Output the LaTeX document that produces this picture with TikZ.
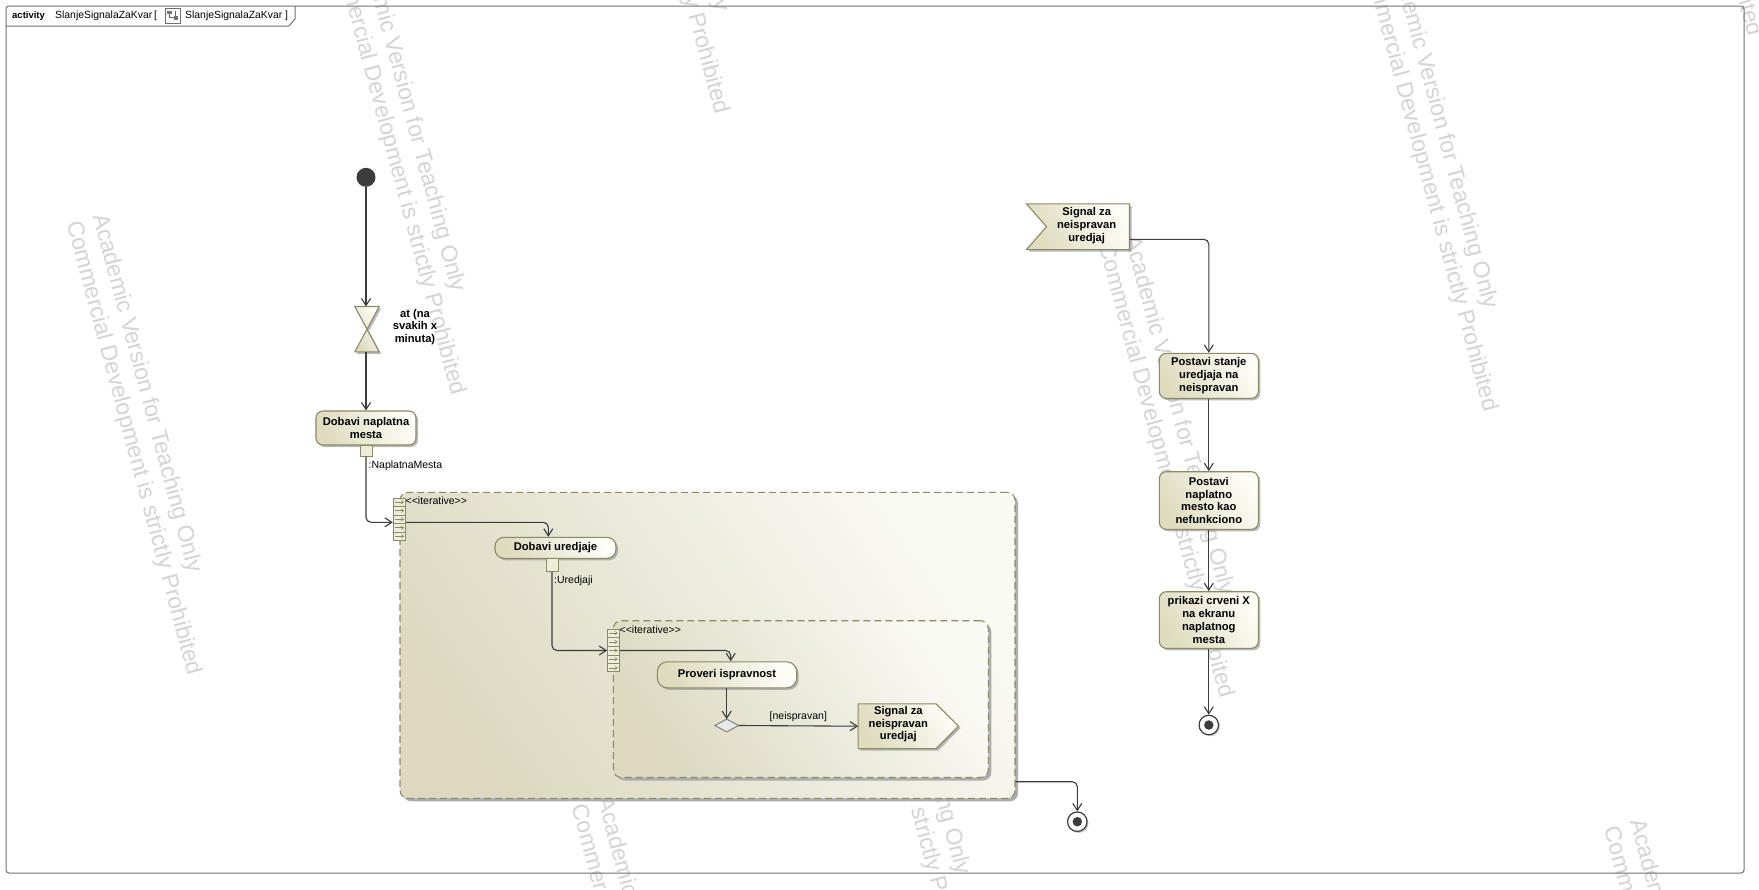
\documentclass[tikz,border=0pt]{standalone}
\usepackage{fontspec}
\setmainfont{Liberation Sans}
\usetikzlibrary{arrows.meta,shadows,calc}
\definecolor{oliveline}{RGB}{140,138,100}
\definecolor{actdark}{RGB}{222,219,190}
\definecolor{actlight}{RGB}{253,253,247}
\definecolor{regdark}{RGB}{220,217,192}
\definecolor{reglight}{RGB}{250,250,245}
\definecolor{flowc}{RGB}{60,60,60}
\definecolor{wmc}{RGB}{212,212,212}
\definecolor{framec}{RGB}{112,112,112}
\definecolor{pinfill}{RGB}{238,237,218}
\definecolor{decfill}{RGB}{232,232,232}
\definecolor{decline}{RGB}{130,130,130}
\tikzset{
  bfnode/.style={font=\fontsize{11.2}{12.8}\selectfont\bfseries, align=center, inner sep=0pt},
  actbox/.style={bfnode, draw=oliveline, line width=1.1pt, rounded corners=7pt,
     top color=actlight, bottom color=actdark, shading angle=-60,
     drop shadow={shadow xshift=2pt, shadow yshift=-2pt, fill=black!45, opacity=0.6}},
  shapebox/.style={draw=none, fill=none, inner sep=0pt},
  evshape/.style={draw=oliveline, line width=1.1pt, top color=actlight, bottom color=actdark, shading angle=-60,
     drop shadow={shadow xshift=2pt, shadow yshift=-2pt, fill=black!45, opacity=0.6}},
  regionbox/.style={draw=oliveline, line width=1.1pt, dash pattern=on 7pt off 4pt, rounded corners=8pt,
     top color=reglight, bottom color=regdark, shading angle=-55, inner sep=0pt,
     drop shadow={shadow xshift=3pt, shadow yshift=-3pt, fill=black!32, opacity=1}},
  flowline/.style={draw=flowc, line width=1.1pt, rounded corners=5pt, -{Straight Barb[length=7pt,width=9pt]}},
  plainlabel/.style={font=\fontsize{10.5}{12}\selectfont, inner sep=0pt},
  pinsq/.style={draw=oliveline, fill=pinfill, line width=1pt, minimum width=12pt, minimum height=11pt, inner sep=0pt},
  expnode/.style={draw=oliveline, fill=pinfill, line width=1pt, inner sep=0pt},
  compline/.style={draw=oliveline, line width=0.6pt},
  comparrow/.style={draw=oliveline, line width=0.6pt, -{Straight Barb[length=2.5pt,width=3.5pt]}},
  wmark/.style={text=wmc, font=\fontsize{23}{27}\selectfont, align=left, rotate=-75, anchor=south west, inner sep=0pt},
  finalnode/.style={circle, draw=flowc, fill=white, line width=1.2pt, minimum size=19.5pt, inner sep=0pt,
     drop shadow={shadow xshift=1.5pt, shadow yshift=-1.5pt, fill=black!40, opacity=0.5}},
  finaldot/.style={circle, fill=flowc, minimum size=9.5pt, inner sep=0pt},
}
\begin{document}
\begin{tikzpicture}[x=1pt,y=-1pt]
\useasboundingbox (0,0) rectangle (1759,889);
\clip (0,0) rectangle (1759,889);
\fill[white] (0,0) rectangle (1759,889);
% watermarks
\foreach \px/\py [count=\i] in {61.7/224.4, 325.4/-56, 1094/247, 1357.6/-39.3, 589/-336.6, 1622/-415, 830/527, 566.6/808, 1599/830} {
  \node[wmark] (wm\i) at (\px,\py) {Academic Version for Teaching Only\\Commercial Development is strictly Prohibited};
}
% frame
\draw[framec, line width=1pt, rounded corners=3pt] (6,6) rectangle (1744,873);
\draw[framec, line width=1pt] (6,26) -- (289,26) -- (295,19) -- (295,6);
\node[anchor=base west, inner sep=0pt, font=\fontsize{9.5}{11}\selectfont\bfseries] (tabkw) at (12,18.5) {activity};
\node[anchor=base west, inner sep=0pt, font=\fontsize{10.4}{12}\selectfont] (tabname) at (55,18.5) {SlanjeSignalaZaKvar\,[};
\draw[framec, line width=0.7pt] (165,8.5) rectangle (180,23);
\fill[black!55] (167,10.5) rectangle (172,14);
\fill[black!55] (173.5,16) rectangle (178,19.5);
\draw[black!60, line width=0.7pt] (169.5,14) -- (169.5,17.8) -- (173.5,17.8);
\draw[black!60, line width=0.7pt] (175.5,10.5) -- (175.5,16);
\node[anchor=base west, inner sep=0pt, font=\fontsize{10.4}{12}\selectfont] (tabname2) at (185,18.5) {SlanjeSignalaZaKvar ]};
% regions
\node[regionbox, minimum width=615pt, minimum height=306pt] (reg1) at (707.5,645.3) {};
\node[regionbox, minimum width=375pt, minimum height=156.8pt] (reg2) at (800.8,699.1) {};
\node[plainlabel, anchor=west] (it1) at (405.5,500.7) {<{}<iterative>{}>};
\node[plainlabel, anchor=west] (it2) at (619.5,629.3) {<{}<iterative>{}>};
% expansion nodes
\node[expnode, minimum width=12.4pt, minimum height=41.7pt] (exp1) at (399.5,519.2) {};
\node[expnode, minimum width=11.6pt, minimum height=42.4pt] (exp2) at (613.5,650.5) {};
\foreach \e in {exp1,exp2} {
  \foreach \k in {1,...,4}
    \draw[compline] ($(\e.north west)!\k/5!(\e.south west)$) -- ($(\e.north east)!\k/5!(\e.south east)$);
  \foreach \k in {1,3,5,7,9}
    \draw[comparrow] ($(\e.north west)!\k/10!(\e.south west)+(2,0)$) -- ($(\e.north east)!\k/10!(\e.south east)+(-2,0)$);
}
% initial and time event
\node[circle, fill=flowc, minimum size=19pt, inner sep=0pt] (init) at (366,177.3) {};
\node[shapebox, minimum width=24pt, minimum height=45pt] (tm) at (367,329.2) {};
\path[evshape] (tm.north west) -- (tm.north east) -- (tm.south west) -- (tm.south east) -- cycle;
\node[bfnode] (tmlabel) at (415,327) {at (na\\svakih x\\minuta)};
% actions
\node[actbox, minimum width=100pt, minimum height=34pt] (dnm) at (366,428) {Dobavi naplatna\\mesta};
\node[pinsq] (p1) at (366,450.5) {};
\node[plainlabel, anchor=west] (p1lab) at (368.5,465.3) {:NaplatnaMesta};
\node[actbox, minimum width=121pt, minimum height=21pt, rounded corners=9pt] (dur) at (555.5,547.8) {Dobavi uredjaje};
\node[pinsq, minimum height=12.5pt] (p2) at (552,565) {};
\node[plainlabel, anchor=west] (p2lab) at (554,580.7) {:Uredjaji};
\node[actbox, minimum width=139.4pt, minimum height=26pt, rounded corners=10pt] (pi) at (727,674.8) {Proveri ispravnost};
% decision
\node[shapebox, minimum width=23.3pt, minimum height=12.4pt] (dec) at (726.7,725.5) {};
\path[draw=decline, line width=1pt, fill=decfill] (dec.north) -- (dec.east) -- (dec.south) -- (dec.west) -- cycle;
% send signal
\node[shapebox, minimum width=100pt, minimum height=44.3pt] (sendbox) at (908.3,726.2) {};
\path[evshape] (sendbox.north west) -- ([xshift=-22.3pt]sendbox.north east) -- (sendbox.east) -- ([xshift=-22.3pt]sendbox.south east) -- (sendbox.south west) -- cycle;
\node[bfnode] (sendtext) at (898.3,724.2) {Signal za\\neispravan\\uredjaj};
% accept event
\node[shapebox, minimum width=102.6pt, minimum height=45.3pt] (accbox) at (1078,226.7) {};
\path[evshape] (accbox.north west) -- (accbox.north east) -- (accbox.south east) -- (accbox.south west) -- ([xshift=20pt]accbox.west) -- cycle;
\node[bfnode] (acctext) at (1086.7,225.5) {Signal za\\neispravan\\uredjaj};
% right column
\node[actbox, minimum width=99pt, minimum height=45pt] (ps) at (1208.8,375.8) {Postavi stanje\\uredjaja na\\neispravan};
\node[actbox, minimum width=99pt, minimum height=57.6pt] (pn) at (1208.8,500.5) {Postavi\\naplatno\\mesto kao\\nefunkciono};
\node[actbox, minimum width=99pt, minimum height=56.6pt] (pr) at (1208.8,620) {prikazi crveni X\\na ekranu\\naplatnog\\mesta};
% finals
\node[finalnode] (fin1) at (1077.3,821.7) {};
\node[finaldot] (fin1dot) at (fin1) {};
\node[finalnode] (fin2) at (1208.8,725) {};
\node[finaldot] (fin2dot) at (fin2) {};
% flows
\draw[flowline] (init) -- (init |- tm.north);
\draw[flowline] (init |- tm.south) -- (dnm.north);
\draw[flowline] (p1.south) |- ([yshift=-3.1pt]exp1.west);
\draw[flowline] ([yshift=-3.1pt]exp1.east) -| ([xshift=-7.2pt]dur.north);
\draw[flowline] (p2.south) |- (exp2.west);
\draw[flowline] (exp2.east) -| ([xshift=3.7pt]pi.north);
\draw[flowline] (dec.north |- pi.south) -- (dec.north);
\draw[flowline] (dec.east) -- node[plainlabel, above=4pt] (neislab) {[neispravan]} (sendbox.west);
\draw[flowline] ([yshift=-136.4pt]reg1.east) -| (fin1.north);
\draw[flowline] ([yshift=-12.6pt]accbox.east) -| (ps.north);
\draw[flowline] (ps.south) -- (pn.north);
\draw[flowline] (pn.south) -- (pr.north);
\draw[flowline] (pr.south) -- (fin2.north);
\end{tikzpicture}
\end{document}
